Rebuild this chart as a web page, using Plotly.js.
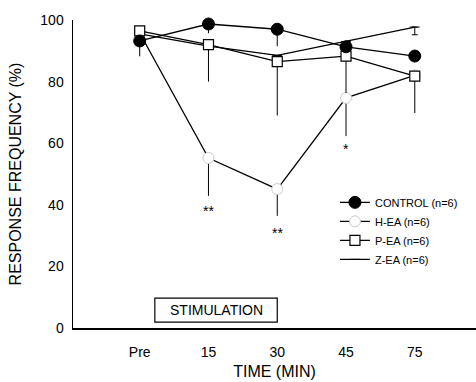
<!DOCTYPE html>
<html>
<head>
<meta charset="utf-8">
<script src="https://cdn.plot.ly/plotly-3.0.1.min.js"></script>
<style>html,body{margin:0;padding:0;background:#fff}#chart{width:476px;height:382px}</style>
</head>
<body>
<div id="chart"></div>
<script>
// Time points (categories)
const categories = ['Pre', '15', '30', '45', '75'];
const xIdx = [0, 1, 2, 3, 4];

// Series values (response frequency, %)
const control = [93.2, 98.7, 97.0, 91.3, 88.3];
const hEA     = [95.8, 55.2, 45.1, 74.7, 82.0];
const pEA     = [96.5, 92.0, 86.5, 88.3, 81.8];
const zEA     = [95.5, 91.5, 88.5, 93.0, 97.7];

// Downward error bars (SD)
const controlErr = [5.0, 3.0, 5.5, 0.0, 2.0];
const hEAErr     = [2.0, 12.3, 8.7, 12.4, 0.0];
const pEAErr     = [0.0, 12.0, 17.5, 12.0, 12.0];
const zEAErr     = [0.0, 0.0, 1.5, 0.0, 2.5];

// Significance marks
const sigX = [1, 2, 3];
const sigY = [38.0, 31.0, 58];
const sigText = ['**', '**', '*'];

const legendNames = ['CONTROL (n=6)', 'H-EA (n=6)', 'P-EA (n=6)', 'Z-EA (n=6)'];

function errDown(arr, w) {
  return {type: 'data', symmetric: false, array: arr.map(() => 0), arrayminus: arr,
          color: '#000', thickness: 1, width: w};
}

const traces = [
  {x: xIdx, y: zEA, name: legendNames[3], legendrank: 4, mode: 'lines+markers',
   line: {color: '#000', width: 1.3},
   marker: {symbol: 'line-ew', size: 7, color: '#000', line: {color: '#000', width: 1}},
   error_y: errDown(zEAErr, 3), cliponaxis: false},
  {x: xIdx, y: hEA, name: legendNames[1], legendrank: 2, mode: 'lines+markers',
   line: {color: '#000', width: 1.3},
   marker: {symbol: 'circle', size: 11, color: '#fff', line: {color: '#ccc', width: 1}},
   error_y: errDown(hEAErr, 0), cliponaxis: false},
  {x: xIdx, y: pEA, name: legendNames[2], legendrank: 3, mode: 'lines+markers',
   line: {color: '#000', width: 1.3},
   marker: {symbol: 'square', size: 10, color: '#fff', line: {color: '#000', width: 1.2}},
   error_y: errDown(pEAErr, 0), cliponaxis: false},
  {x: xIdx, y: control, name: legendNames[0], legendrank: 1, mode: 'lines+markers',
   line: {color: '#000', width: 1.3},
   marker: {symbol: 'circle', size: 12, color: '#000', line: {color: '#000', width: 1}},
   error_y: errDown(controlErr, 0), cliponaxis: false}
];

const annotations = sigX.map((x, i) => ({
  x: x, y: sigY[i], xref: 'x', yref: 'y', text: sigText[i], showarrow: false,
  font: {family: 'Liberation Sans, Arial, sans-serif', size: 14, color: '#000'}
}));
annotations.push({
  x: 1.11, y: 5.8, xref: 'x', yref: 'y', text: 'STIMULATION', showarrow: false,
  font: {family: 'Liberation Sans, Arial, sans-serif', size: 14, color: '#000'}
});

const layout = {
  width: 476, height: 382,
  margin: {l: 73, r: 0, t: 20, b: 54},
  paper_bgcolor: '#fff', plot_bgcolor: '#fff',
  font: {family: 'Liberation Sans, Arial, sans-serif', color: '#000'},
  showlegend: true,
  legend: {
    x: 0.65, y: 0.455, xanchor: 'left', yanchor: 'top',
    traceorder: 'normal', bgcolor: 'rgba(0,0,0,0)',
    font: {size: 11, color: '#000'}, itemwidth: 30, tracegroupgap: 0
  },
  xaxis: {
    range: [-0.97, 4.89], tickvals: xIdx, ticktext: categories,
    showgrid: false, zeroline: false, showline: true, linecolor: '#000', linewidth: 1.5,
    ticks: '', ticklabelstandoff: 11,
    tickfont: {size: 14},
    title: {text: 'TIME (MIN)', font: {size: 16}, standoff: 6}
  },
  yaxis: {
    range: [0, 100], tickvals: [0, 20, 40, 60, 80, 100],
    showgrid: false, zeroline: false, showline: true, linecolor: '#000', linewidth: 1.5,
    ticks: '', ticklabelstandoff: 5,
    tickfont: {size: 14},
    title: {text: 'RESPONSE FREQUENCY (%)', font: {size: 16}, standoff: 14}
  },
  shapes: [{
    type: 'rect', xref: 'x', yref: 'y', x0: 0.22, x1: 2.0, y0: 1.9, y1: 9.7,
    line: {color: '#000', width: 1.2}, fillcolor: 'rgba(0,0,0,0)'
  }],
  annotations: annotations
};

Plotly.newPlot('chart', traces, layout, {displayModeBar: false, staticPlot: true});
</script>
</body>
</html>
